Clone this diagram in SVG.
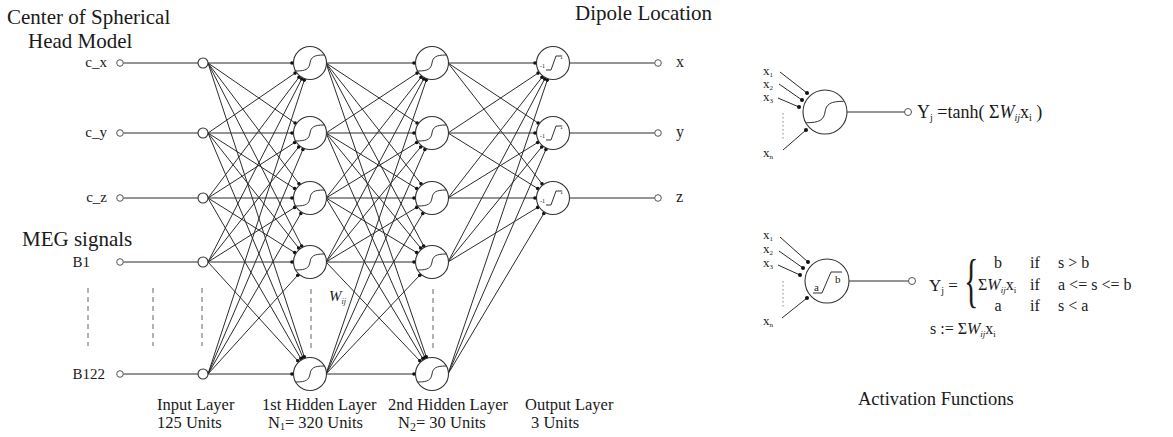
<svg xmlns="http://www.w3.org/2000/svg" xmlns:xlink="http://www.w3.org/1999/xlink" width="1173" height="437" viewBox="0 0 1173 437">
<style>
.ln{stroke:#2b2b2b;stroke-width:1;fill:none}
.d{fill:#111}
.nc{fill:#fff;stroke:#333;stroke-width:1.1}
.tc{fill:#fff;stroke:#555;stroke-width:1}
.gl{fill:none;stroke:#333;stroke-width:1}
.t{font-family:"Liberation Serif","Times New Roman",serif;fill:#1a1a1a}
.dash{stroke:#666;stroke-width:1;stroke-dasharray:5 4;fill:none}
.dot{stroke:#888;stroke-width:1;stroke-dasharray:1.5 2.5;fill:none}
</style>
<defs>
<g id="hn"><circle r="16.5" class="nc"/><path class="gl" d="M-14,8 C-4,8 -1,6 0,0 C1,-6 4,-8 14,-8"/></g>
</defs>
<rect width="1173" height="437" fill="#fff"/>

<g id="connectors">
<path class="ln" d="M123.3,63H198M123.3,133H198M123.3,198H198M123.3,262H198M123.3,374H198"/>
<path class="ln" d="M569.5,63H654.7M569.5,133H654.7M569.5,198H654.7"/>
<path class="ln" d="M208,63L292,63M208,133L295.1,73.1M208,198L299,77.3M208,262L301.7,79M208,374L304.3,80.1"/>
<path class="ln" d="M208,63L295.1,123M208,133L292,133M208,198L294.7,142.5M208,262L298.7,147M208,374L302.9,149.5"/>
<path class="ln" d="M208,63L299,183.7M208,133L294.7,188.5M208,198L292,198M208,262L294.7,207.4M208,374L300.8,213.5"/>
<path class="ln" d="M208,63L301.7,246M208,133L298.7,248M208,198L294.7,252.6M208,262L292,262M208,374L297.8,275.2"/>
<path class="ln" d="M208,63L304.3,356.9M208,133L302.9,357.5M208,198L300.8,358.5M208,262L297.8,360.8M208,374L292,374"/>
<path class="ln" d="M326,63L414,63M326,133L417.1,73.1M326,198L421,77.3M326,262L423.7,79M326,374L426.3,80.1"/>
<path class="ln" d="M326,63L417.1,123M326,133L414,133M326,198L416.7,142.5M326,262L420.7,147M326,374L424.9,149.5"/>
<path class="ln" d="M326,63L421,183.7M326,133L416.7,188.5M326,198L414,198M326,262L416.7,207.4M326,374L422.8,213.5"/>
<path class="ln" d="M326,63L423.7,246M326,133L420.7,248M326,198L416.7,252.6M326,262L414,262M326,374L419.8,275.2"/>
<path class="ln" d="M326,63L426.3,356.9M326,133L424.9,357.5M326,198L422.8,358.5M326,262L419.8,360.8M326,374L414,374"/>
<path class="ln" d="M448,63L535,63M448,133L538.1,73.1M448,198L542,77.3M448,262L544.7,79M448,374L547.3,80.1"/>
<path class="ln" d="M448,63L538.1,123M448,133L535,133M448,198L537.7,142.5M448,262L541.7,147M448,374L545.9,149.5"/>
<path class="ln" d="M448,63L542,183.7M448,133L537.7,188.5M448,198L535,198M448,262L537.7,207.4M448,374L543.8,213.5"/>
<g class="d">
<circle cx="292" cy="63" r="1.8"/><circle cx="295.1" cy="73.1" r="1.8"/><circle cx="299" cy="77.3" r="1.8"/><circle cx="301.7" cy="79" r="1.8"/><circle cx="304.3" cy="80.1" r="1.8"/>
<circle cx="295.1" cy="123" r="1.8"/><circle cx="292" cy="133" r="1.8"/><circle cx="294.7" cy="142.5" r="1.8"/><circle cx="298.7" cy="147" r="1.8"/><circle cx="302.9" cy="149.5" r="1.8"/>
<circle cx="299" cy="183.7" r="1.8"/><circle cx="294.7" cy="188.5" r="1.8"/><circle cx="292" cy="198" r="1.8"/><circle cx="294.7" cy="207.4" r="1.8"/><circle cx="300.8" cy="213.5" r="1.8"/>
<circle cx="301.7" cy="246" r="1.8"/><circle cx="298.7" cy="248" r="1.8"/><circle cx="294.7" cy="252.6" r="1.8"/><circle cx="292" cy="262" r="1.8"/><circle cx="297.8" cy="275.2" r="1.8"/>
<circle cx="304.3" cy="356.9" r="1.8"/><circle cx="302.9" cy="357.5" r="1.8"/><circle cx="300.8" cy="358.5" r="1.8"/><circle cx="297.8" cy="360.8" r="1.8"/><circle cx="292" cy="374" r="1.8"/>
<circle cx="414" cy="63" r="1.8"/><circle cx="417.1" cy="73.1" r="1.8"/><circle cx="421" cy="77.3" r="1.8"/><circle cx="423.7" cy="79" r="1.8"/><circle cx="426.3" cy="80.1" r="1.8"/>
<circle cx="417.1" cy="123" r="1.8"/><circle cx="414" cy="133" r="1.8"/><circle cx="416.7" cy="142.5" r="1.8"/><circle cx="420.7" cy="147" r="1.8"/><circle cx="424.9" cy="149.5" r="1.8"/>
<circle cx="421" cy="183.7" r="1.8"/><circle cx="416.7" cy="188.5" r="1.8"/><circle cx="414" cy="198" r="1.8"/><circle cx="416.7" cy="207.4" r="1.8"/><circle cx="422.8" cy="213.5" r="1.8"/>
<circle cx="423.7" cy="246" r="1.8"/><circle cx="420.7" cy="248" r="1.8"/><circle cx="416.7" cy="252.6" r="1.8"/><circle cx="414" cy="262" r="1.8"/><circle cx="419.8" cy="275.2" r="1.8"/>
<circle cx="426.3" cy="356.9" r="1.8"/><circle cx="424.9" cy="357.5" r="1.8"/><circle cx="422.8" cy="358.5" r="1.8"/><circle cx="419.8" cy="360.8" r="1.8"/><circle cx="414" cy="374" r="1.8"/>
<circle cx="535" cy="63" r="1.8"/><circle cx="538.1" cy="73.1" r="1.8"/><circle cx="542" cy="77.3" r="1.8"/><circle cx="544.7" cy="79" r="1.8"/><circle cx="547.3" cy="80.1" r="1.8"/>
<circle cx="538.1" cy="123" r="1.8"/><circle cx="535" cy="133" r="1.8"/><circle cx="537.7" cy="142.5" r="1.8"/><circle cx="541.7" cy="147" r="1.8"/><circle cx="545.9" cy="149.5" r="1.8"/>
<circle cx="542" cy="183.7" r="1.8"/><circle cx="537.7" cy="188.5" r="1.8"/><circle cx="535" cy="198" r="1.8"/><circle cx="537.7" cy="207.4" r="1.8"/><circle cx="543.8" cy="213.5" r="1.8"/>
</g>
<path class="dash" d="M88,288V346M153,288V346M202,288V346M311,289V350M433,289V350"/>
</g>

<g id="term_cx"><circle class="tc" cx="120" cy="63" r="3.3"/><text class="t" x="107" y="67" font-size="15" text-anchor="end">c_x</text></g>
<g id="term_cy"><circle class="tc" cx="120" cy="133" r="3.3"/><text class="t" x="107" y="137" font-size="15" text-anchor="end">c_y</text></g>
<g id="term_cz"><circle class="tc" cx="120" cy="198" r="3.3"/><text class="t" x="107" y="202" font-size="15" text-anchor="end">c_z</text></g>
<g id="term_b1"><circle class="tc" cx="120" cy="262" r="3.3"/><text class="t" x="90" y="267" font-size="15" text-anchor="end">B1</text></g>
<g id="term_b122"><circle class="tc" cx="120" cy="374" r="3.3"/><text class="t" x="105" y="379" font-size="15" text-anchor="end">B122</text></g>

<g id="in1"><circle class="nc" cx="203" cy="63" r="5"/></g>
<g id="in2"><circle class="nc" cx="203" cy="133" r="5"/></g>
<g id="in3"><circle class="nc" cx="203" cy="198" r="5"/></g>
<g id="in4"><circle class="nc" cx="203" cy="262" r="5"/></g>
<g id="in5"><circle class="nc" cx="203" cy="374" r="5"/></g>

<g id="h1_1" transform="translate(310,63)"><use href="#hn" xlink:href="#hn"/></g>
<g id="h1_2" transform="translate(310,133)"><use href="#hn" xlink:href="#hn"/></g>
<g id="h1_3" transform="translate(310,198)"><use href="#hn" xlink:href="#hn"/></g>
<g id="h1_4" transform="translate(310,262)"><use href="#hn" xlink:href="#hn"/></g>
<g id="h1_5" transform="translate(310,374)"><use href="#hn" xlink:href="#hn"/></g>

<g id="h2_1" transform="translate(432,63)"><use href="#hn" xlink:href="#hn"/></g>
<g id="h2_2" transform="translate(432,133)"><use href="#hn" xlink:href="#hn"/></g>
<g id="h2_3" transform="translate(432,198)"><use href="#hn" xlink:href="#hn"/></g>
<g id="h2_4" transform="translate(432,262)"><use href="#hn" xlink:href="#hn"/></g>
<g id="h2_5" transform="translate(432,374)"><use href="#hn" xlink:href="#hn"/></g>

<g id="out1" transform="translate(553,63)"><circle r="16.5" class="nc"/><path class="gl" d="M-7,7 L-2,7 L3,-7 L8,-7"/><text class="t" x="-13" y="5" font-size="6">-1</text><text class="t" x="7" y="-4" font-size="6">1</text></g>
<g id="out2" transform="translate(553,133)"><circle r="16.5" class="nc"/><path class="gl" d="M-7,7 L-2,7 L3,-7 L8,-7"/><text class="t" x="-13" y="5" font-size="6">-1</text><text class="t" x="7" y="-4" font-size="6">1</text></g>
<g id="out3" transform="translate(553,198)"><circle r="16.5" class="nc"/><path class="gl" d="M-7,7 L-2,7 L3,-7 L8,-7"/><text class="t" x="-13" y="5" font-size="6">-1</text><text class="t" x="7" y="-4" font-size="6">1</text></g>

<g id="term_x"><circle class="tc" cx="658" cy="63" r="3.3"/><text class="t" x="676" y="67" font-size="16">x</text></g>
<g id="term_y"><circle class="tc" cx="658" cy="133" r="3.3"/><text class="t" x="676" y="137" font-size="16">y</text></g>
<g id="term_z"><circle class="tc" cx="658" cy="198" r="3.3"/><text class="t" x="676" y="202" font-size="16">z</text></g>

<g id="labels">
<text class="t" x="7" y="24" font-size="21">Center of Spherical</text>
<text class="t" x="28" y="48" font-size="21">Head Model</text>
<text class="t" x="22" y="246" font-size="21">MEG signals</text>
<text class="t" x="575" y="20" font-size="21">Dipole Location</text>
<text class="t" x="329" y="301" font-size="15" font-style="italic">W<tspan font-size="8" dy="3">ij</tspan></text>
<text class="t" x="157" y="410" font-size="16.5">Input Layer</text>
<text class="t" x="157" y="428" font-size="16.5">125 Units</text>
<text class="t" x="262" y="410" font-size="16.5">1st Hidden Layer</text>
<text class="t" x="268" y="428" font-size="16.5">N<tspan font-size="10" dy="2">1</tspan><tspan dy="-2">= 320 Units</tspan></text>
<text class="t" x="388" y="410" font-size="16.5">2nd Hidden Layer</text>
<text class="t" x="398" y="428" font-size="16.5">N<tspan font-size="12" dy="3">2</tspan><tspan dy="-3">= 30 Units</tspan></text>
<text class="t" x="525" y="410" font-size="16.5">Output Layer</text>
<text class="t" x="531" y="428" font-size="16.5">3 Units</text>
<text class="t" x="858" y="405" font-size="18.5">Activation Functions</text>
</g>

<g id="act_tanh">
<path class="ln" d="M780,72L807,93M779,84L802,100M778,98L799,107M783,150L806,130M847,112H904.5"/>
<path class="dot" d="M783,113V141"/>
<g class="d"><circle cx="807" cy="93" r="2"/><circle cx="802" cy="100" r="2"/><circle cx="799" cy="107" r="2"/><circle cx="806" cy="130" r="2"/></g>
<circle class="nc" cx="825" cy="112" r="22"/>
<path class="gl" d="M806.3,122.7 C819.7,122.7 823.7,120 825,112 C826.3,104 830.3,101.3 843.7,101.3"/>
<circle class="tc" cx="908" cy="112" r="3.5"/>
<text class="t" x="763" y="75" font-size="13">x<tspan font-size="7" dy="1.5">1</tspan></text>
<text class="t" x="763" y="88" font-size="13">x<tspan font-size="7" dy="1.5">2</tspan></text>
<text class="t" x="763" y="101" font-size="13">x<tspan font-size="7" dy="1.5">3</tspan></text>
<text class="t" x="763" y="157" font-size="13">x<tspan font-size="7" dy="1.5">n</tspan></text>
<text class="t" x="917" y="118" font-size="18">Y<tspan font-size="10" dy="3">j</tspan><tspan dy="-3"> =tanh( Σ</tspan><tspan font-style="italic">W</tspan><tspan font-size="10" dy="3" font-style="italic">ij</tspan><tspan dy="-3">x</tspan><tspan font-size="10" dy="3">i</tspan><tspan dy="-3"> )</tspan></text>
</g>

<g id="act_linear">
<path class="ln" d="M780,237L808,262M779,251L803,268M778,265L800,275M782,318L807,298M849,281H908.5"/>
<path class="dot" d="M783,281V309"/>
<g class="d"><circle cx="808" cy="262" r="2"/><circle cx="803" cy="268" r="2"/><circle cx="800" cy="275" r="2"/><circle cx="807" cy="298" r="2"/></g>
<circle class="nc" cx="827" cy="281" r="22"/>
<path class="gl" d="M813,293 L822,293 L831,272 L842,272"/>
<text class="t" x="814" y="291" font-size="11">a</text>
<text class="t" x="835" y="283" font-size="11">b</text>
<circle class="tc" cx="912" cy="281" r="3.5"/>
<text class="t" x="763" y="239" font-size="13">x<tspan font-size="7" dy="1.5">1</tspan></text>
<text class="t" x="763" y="253" font-size="13">x<tspan font-size="7" dy="1.5">2</tspan></text>
<text class="t" x="763" y="267" font-size="13">x<tspan font-size="7" dy="1.5">3</tspan></text>
<text class="t" x="763" y="325" font-size="13">x<tspan font-size="7" dy="1.5">n</tspan></text>
<text class="t" x="929" y="291" font-size="17">Y<tspan font-size="10" dy="3">j</tspan><tspan dy="-3"> =</tspan></text>
<text class="t" transform="translate(964,300) scale(0.5,1)" font-size="60">{</text>
<text class="t" x="998" y="268" font-size="16" text-anchor="middle">b</text>
<text class="t" x="978" y="290" font-size="16">Σ<tspan font-style="italic">W</tspan><tspan font-size="9" dy="3" font-style="italic">ij</tspan><tspan dy="-3">x</tspan><tspan font-size="9" dy="3">i</tspan></text>
<text class="t" x="998" y="311" font-size="16" text-anchor="middle">a</text>
<text class="t" x="1030" y="268" font-size="16">if</text>
<text class="t" x="1030" y="290" font-size="16">if</text>
<text class="t" x="1030" y="311" font-size="16">if</text>
<text class="t" x="1058" y="268" font-size="16">s &gt; b</text>
<text class="t" x="1058" y="290" font-size="16">a &lt;= s &lt;= b</text>
<text class="t" x="1058" y="311" font-size="16">s &lt; a</text>
<text class="t" x="930" y="334" font-size="16">s := Σ<tspan font-style="italic">W</tspan><tspan font-size="9" dy="3" font-style="italic">ij</tspan><tspan dy="-3">x</tspan><tspan font-size="9" dy="3">i</tspan></text>
</g>
</svg>
